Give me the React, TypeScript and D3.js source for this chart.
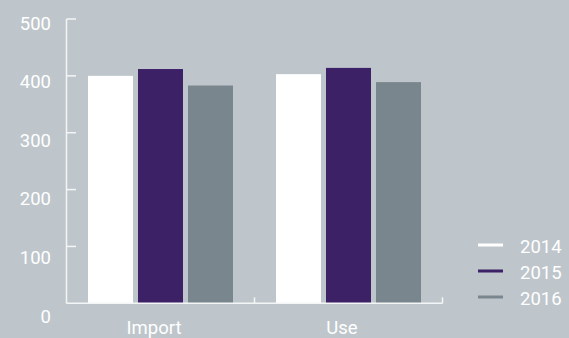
import React from "react";
import * as d3 from "d3";

const categories = ["Import", "Use"];
const years = ["2014", "2015", "2016"];
const values2014 = [400, 403];
const values2015 = [412, 414];
const values2016 = [383, 389];
const yTicks = [0, 100, 200, 300, 400, 500];

const W = 569;
const H = 338;
const BG = "#bec6cb";
const COLORS = ["#ffffff", "#3d2167", "#7a868d"];
const FONT = "Roboto, sans-serif";

export default function App() {
  const series = [values2014, values2015, values2016];
  const y = d3.scaleLinear().domain([0, 500]).range([303.3, 19]);
  const yLabel = d3.scaleLinear().domain([0, 500]).range([316, 23]);
  const x0 = d3.scaleBand<string>().domain(categories).range([66.5, 442.5]).padding(0);
  const x1 = d3
    .scaleBand<string>()
    .domain(years)
    .range([0, x0.bandwidth()])
    .paddingInner(0.1)
    .paddingOuter(0.43);
  const legendY = d3.scalePoint<string>().domain(years).range([245, 297]);

  const axisColor = "#f4f5f6";
  const base = y(0);

  return (
    <svg
      width={W}
      height={H}
      style={{ position: "fixed", left: 0, top: 0, display: "block" }}
    >
      <rect x={0} y={0} width={W} height={H} fill={BG} />
      {/* bars */}
      {categories.map((c, ci) =>
        years.map((yr, si) => {
          const v = series[si][ci];
          return (
            <rect
              key={c + yr}
              x={(x0(c) as number) + (x1(yr) as number)}
              y={y(v)}
              width={x1.bandwidth()}
              height={base - y(v)}
              fill={COLORS[si]}
            />
          );
        })
      )}
      {/* y axis */}
      <line x1={66.5} x2={66.5} y1={y(500)} y2={base} stroke={axisColor} strokeWidth={1.5} />
      {yTicks.map((t) => (
        <g key={t}>
          {t > 0 && (
            <line x1={66.5} x2={76} y1={y(t)} y2={y(t)} stroke={axisColor} strokeWidth={1.5} />
          )}
          <text
            x={51}
            y={yLabel(t)}
            dy="0.36em"
            textAnchor="end"
            fill="#ffffff"
            fontFamily={FONT}
            fontSize={18.5}
          >
            {t}
          </text>
        </g>
      ))}
      {/* x axis */}
      <line x1={66.5} x2={442.5} y1={base} y2={base} stroke={axisColor} strokeWidth={1.5} />
      {categories.map((c, i) => (
        <g key={c}>
          <line
            x1={(x0(c) as number) + x0.bandwidth()}
            x2={(x0(c) as number) + x0.bandwidth()}
            y1={base}
            y2={base - 6}
            stroke={axisColor}
            strokeWidth={1.5}
          />
          <text
            x={(x0(c) as number) + x0.bandwidth() / 2 - 6.5}
            y={334}
            textAnchor="middle"
            fill="#ffffff"
            fontFamily={FONT}
            fontSize={18.5}
          >
            {c}
          </text>
        </g>
      ))}
      {/* legend */}
      {years.map((yr, i) => (
        <g key={yr}>
          <line
            x1={478}
            x2={503}
            y1={legendY(yr)}
            y2={legendY(yr)}
            stroke={COLORS[i]}
            strokeWidth={3}
          />
          <text
            x={520}
            y={(legendY(yr) as number) + 1.5}
            dy="0.36em"
            fill="#ffffff"
            fontFamily={FONT}
            fontSize={18.5}
          >
            {yr}
          </text>
        </g>
      ))}
    </svg>
  );
}
